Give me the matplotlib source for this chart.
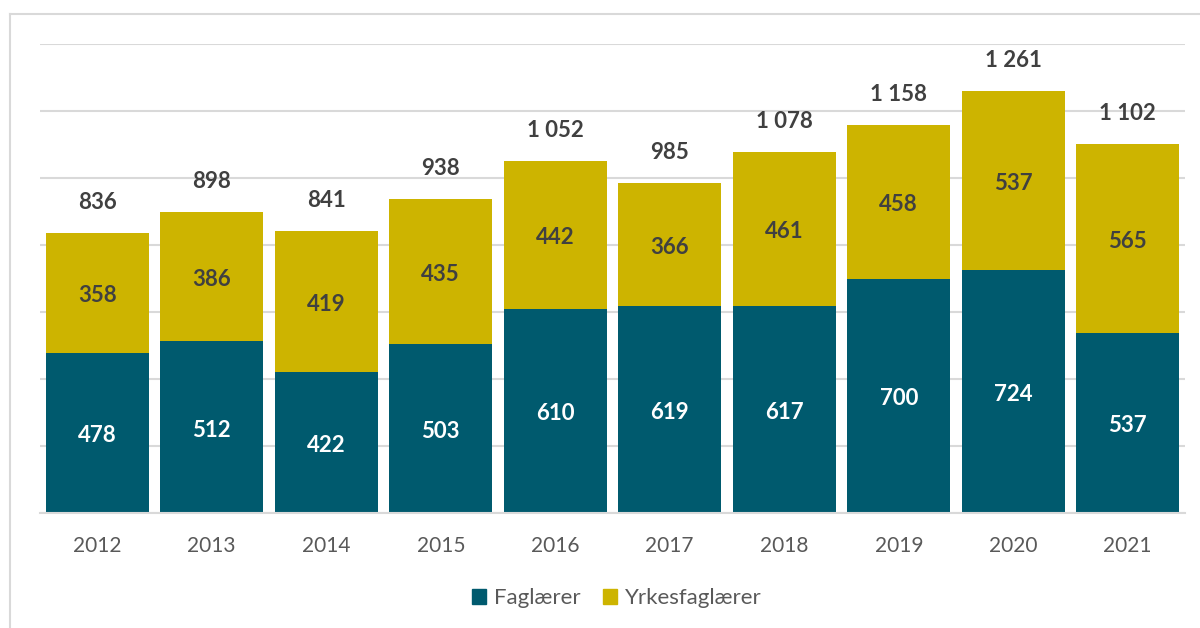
import matplotlib.pyplot as plt
from matplotlib.lines import Line2D
from matplotlib.patches import Patch
import numpy as np

years = ['2012', '2013', '2014', '2015', '2016', '2017', '2018', '2019', '2020', '2021']
faglaerer = [478, 512, 422, 503, 610, 619, 617, 700, 724, 537]
yrkesfaglaerer = [358, 386, 419, 435, 442, 366, 461, 458, 537, 565]
totals = [836, 898, 841, 938, 1052, 985, 1078, 1158, 1261, 1102]

teal = '#005a6e'
gold = '#cdb400'
text_col = '#404040'

plt.rcParams['font.family'] = ['Lato', 'DejaVu Sans']


def fmt(v):
    # norsk tusenskille med mellomrom
    return f'{v:,}'.replace(',', ' ')


fig = plt.figure(figsize=(12, 6.28), dpi=100)
ax = fig.add_axes([40 / 1200, 1 - 513 / 628, 1145 / 1200, 469 / 628])

x = np.arange(len(years))
b1 = ax.bar(x, faglaerer, width=0.9, color=teal, label='Faglærer', zorder=2)
b2 = ax.bar(x, yrkesfaglaerer, width=0.9, bottom=faglaerer, color=gold,
            label='Yrkesfaglærer', zorder=2)

for i in range(len(years)):
    ax.annotate(fmt(faglaerer[i]), (x[i], faglaerer[i] / 2), xytext=(0, -2),
                textcoords='offset points', ha='center', va='center',
                color='white', fontsize=16, fontweight='bold', zorder=3)
    ax.annotate(fmt(yrkesfaglaerer[i]), (x[i], faglaerer[i] + yrkesfaglaerer[i] / 2),
                xytext=(0, -2), textcoords='offset points', ha='center',
                va='center', color=text_col, fontsize=16, fontweight='bold', zorder=3)
    ax.annotate(fmt(totals[i]), (x[i], faglaerer[i] + yrkesfaglaerer[i]),
                xytext=(0, 22), textcoords='offset points', ha='center',
                va='center', color=text_col, fontsize=16, fontweight='bold')

ax.set_xlim(-0.5, 9.5)
ax.set_ylim(0, 1400)
ax.set_yticks(np.arange(0, 1401, 200))
ax.yaxis.grid(True, color='#d9d9d9', linewidth=1.5, zorder=0)
ax.set_axisbelow(True)
ax.tick_params(axis='y', left=False, labelleft=False)
ax.tick_params(axis='x', bottom=False, labelsize=15, labelcolor='#595959', pad=13)
ax.set_xticks(x)
ax.set_xticklabels(years)
for s in ['top', 'right', 'left']:
    ax.spines[s].set_visible(False)
ax.spines['bottom'].set_color('#d9d9d9')
ax.spines['bottom'].set_linewidth(1.5)

handles = [Patch(color=teal, label='Faglærer'), Patch(color=gold, label='Yrkesfaglærer')]
fig.legend(handles=handles, loc='center', bbox_to_anchor=(617 / 1200, 1 - 598 / 628),
           ncol=2, frameon=False, fontsize=16, handlelength=0.65, handleheight=0.65,
           handletextpad=0.35, columnspacing=1.0, labelcolor='#595959')

# ytre ramme
fig.add_artist(Line2D([10 / 1200, 1], [1 - 14 / 628, 1 - 14 / 628],
                      transform=fig.transFigure, color='#d9d9d9', linewidth=1.5))
fig.add_artist(Line2D([10 / 1200, 10 / 1200], [0, 1 - 14 / 628],
                      transform=fig.transFigure, color='#d9d9d9', linewidth=1.5))

fig.savefig('out.png', dpi=100)
